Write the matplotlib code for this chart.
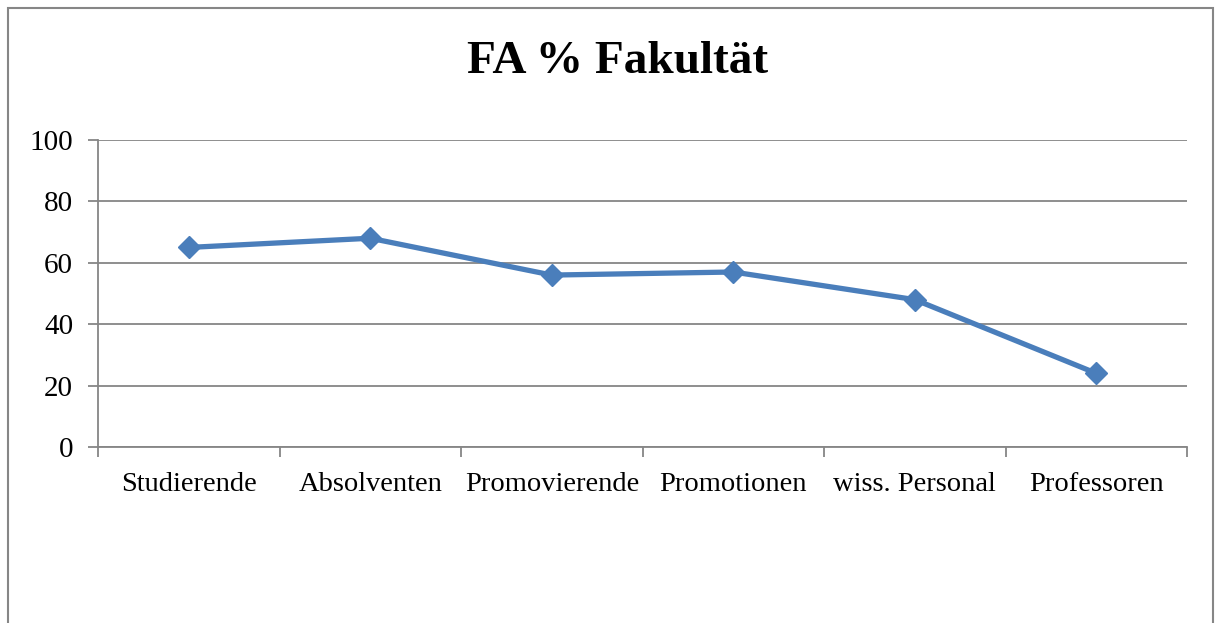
import matplotlib.pyplot as plt
from matplotlib.patches import Rectangle
import numpy as np

categories = ['Studierende', 'Absolventen', 'Promovierende', 'Promotionen', 'wiss. Personal', 'Professoren']
values = [65, 68, 56, 57, 48, 24]

plt.rcParams['font.family'] = ['Liberation Serif', 'DejaVu Serif']

fig = plt.figure(figsize=(12.22, 6.23), dpi=100)
ax = fig.add_axes([0.0802, 0.2825, 0.8912, 0.4928])

x = np.arange(len(categories))
ax.plot(x, values, color='#4A7EBB', linewidth=3.8, marker='D', markersize=11,
        markeredgecolor='#4A7EBB', markerfacecolor='#4A7EBB', zorder=3)

grid_col = '#868686'
ax.set_xlim(-0.5, len(categories) - 0.5)
ax.set_ylim(0, 100)
ax.set_yticks(range(0, 101, 20))
ax.yaxis.grid(True, color=grid_col, linewidth=1.3)
ax.set_axisbelow(True)

# category boundaries as major ticks, labels on minor ticks
ax.set_xticks(np.arange(-0.5, len(categories), 1.0))
ax.set_xticklabels([])
ax.set_xticks(x, minor=True)
ax.set_xticklabels(categories, minor=True)
ax.tick_params(axis='x', which='major', length=7, width=1.3, color=grid_col)
ax.tick_params(axis='x', which='minor', length=0, pad=18, labelsize=20.5)
ax.tick_params(axis='y', length=7, width=1.3, color=grid_col, labelsize=21, pad=11)

for s in ['top', 'right']:
    ax.spines[s].set_visible(False)
for s in ['left', 'bottom']:
    ax.spines[s].set_color(grid_col)
    ax.spines[s].set_linewidth(1.3)

fig.text(0.505, 0.900, 'FA % Fakultät', ha='center', va='center',
         fontsize=34, fontweight='bold')

# chart border
fig.patches.append(Rectangle((8 / 1222, -0.1), (1213 - 8) / 1222, 1.1 - 8 / 623,
                             transform=fig.transFigure, fill=False,
                             edgecolor=grid_col, linewidth=1.5))

fig.savefig('out.png', dpi=100)
